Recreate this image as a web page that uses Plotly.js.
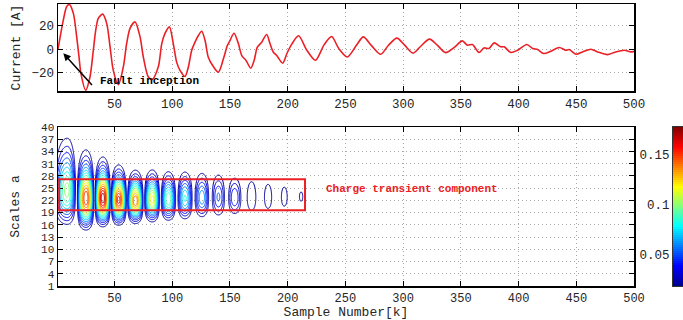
<!DOCTYPE html>
<html><head><meta charset="utf-8">
<script src="https://cdn.plot.ly/plotly-3.0.1.min.js"></script>
<style>html,body{margin:0;padding:0;background:#fff}#chart{width:683px;height:320px}</style>
</head><body><div id="chart"></div>
<script>
// ---- top panel: fault current ----
const sampleK = [1, 5.6, 8.5, 10.8, 14.3, 17.2, 19.2, 20.9, 25, 28.7, 31.6, 33.7, 35.9, 39.7, 43.2, 46.1, 48.9, 53.3, 57.6, 60.5, 63.4, 67.7, 72.1, 74.9, 79.3, 82.7, 87.9, 90.9, 93.7, 97.5, 100.9, 103.8, 106.7, 111, 113.9, 116.8, 119.7, 122.6, 125.5, 128.4, 131.2, 135, 139.9, 144.3, 147.7, 150, 153.5, 157.3, 160.2, 163.9, 168, 170.9, 173.7, 177.5, 181.8, 184.7, 187.6, 190.5, 195.7, 199.2, 203.5, 209.4, 216.6, 224, 231.5, 238, 244.3, 251.6, 259.8, 265.5, 272.8, 280.6, 287.3, 294.6, 301.3, 308.6, 315, 322.9, 329.6, 336.8, 344.1, 351.3, 355.6, 360, 365.7, 370, 374.4, 378.8, 384.6, 387.5, 393.3, 399.1, 407.2, 412.2, 416.5, 421.7, 428, 435.3, 440.9, 443.8, 449.7, 455.5, 462.7, 468.5, 477.1, 482.9, 491.6, 497.4, 500];
const currentA = [0, 24.8, 36.2, 38.2, 30.5, 10.5, -6.6, -20.8, -35.0, -23.7, -0.9, 16.2, 26.2, 29.9, 22, 2, -18, -30.2, -15.1, 4.9, 17.7, 23.3, 10.5, -6.6, -23.7, -25.7, -15, 4.8, 13.4, 19, 4.6, -11, -18, -23.2, -15.3, -1.1, 6, 11.7, 15.3, 7.4, -6.8, -13.9, -19.6, -8.2, 3.1, 7.4, 13.6, 4.6, -5.4, -9.6, -16.2, -9.6, 1.7, 6, 12.5, 4.6, -2.6, -5.4, -11.9, -3.9, 4.3, 11.4, -0.9, -9.4, 3.7, 10.8, 0.5, -6.6, 3.7, 10.5, 2.8, -4.3, 3.4, 9.4, 3.4, -3.4, 2.3, 8.6, 3.4, -2.9, 1.4, 7.1, 3.4, 4, -2.8, 1.1, 0.6, 5.4, 2, 2, -2.8, -0.9, 4, 0.6, -0.3, -3.7, -1.7, 1.4, -0.9, -0.3, -4.3, -2.3, 0, -2.3, -4.6, -2.8, -0.9, -2.3, -1.8];

// ---- bottom panel: wavelet scalogram maxima ----
const blobK      = [9, 25.3, 39.9, 53.5, 68, 82.6, 96.6, 111, 125.7, 140, 154, 168.7, 183, 197, 211.6];
const blobAmp    = [0.105, 0.16, 0.178, 0.165, 0.15, 0.125, 0.1, 0.082, 0.068, 0.052, 0.05, 0.029, 0.026, 0.0235, 0.021];
const blobScale  = [24.5, 22.5, 22.5, 22.1, 21.9, 22.2, 22.3, 22.5, 22.7, 22.8, 22.7, 22.8, 22.8, 22.8, 22.9];
const blobSpread = [0.23, 0.208, 0.178, 0.16, 0.147, 0.148, 0.147, 0.15, 0.148, 0.154, 0.14, 0.178, 0.178, 0.18, 0.16];

const xTicks = [50, 100, 150, 200, 250, 300, 350, 400, 450, 500];
const currentTicks = [-20, 0, 20];
const scaleTicks = [1, 4, 7, 10, 13, 16, 19, 22, 25, 28, 31, 34, 37, 40];
const cbarTicks = [0.05, 0.1, 0.15];
const cbarRange = [0.018, 0.178];
const levels = {start: 0.02, end: 0.17, size: 0.01};

// ---- build scalogram grid from the blob table ----
const kStart = 1, kEnd = 260, kStep = 0.5, aStart = 1, aEnd = 40, aStep = 0.25;
const kGrid = [], aGrid = [];
for (let k = kStart; k <= kEnd + 1e-9; k += kStep) kGrid.push(+k.toFixed(2));
for (let a = aStart; a <= aEnd + 1e-9; a += aStep) aGrid.push(+a.toFixed(2));
function halfWidth(i, d) {
  if (d < 0) return i > 0 ? blobK[i] - blobK[i-1] : 3 * (blobK[0] - kStart);
  return i < blobK.length - 1 ? blobK[i+1] - blobK[i] : blobK[i] - blobK[i-1];
}
const zGrid = aGrid.map(a => kGrid.map(k => {
  let best = 0;
  for (let i = 0; i < blobK.length; i++) {
    const d = k - blobK[i];
    const P = halfWidth(i, d);
    if (Math.abs(d) >= P / 2) continue;
    const h = Math.cos(Math.PI * d / P);
    const u = Math.log(a / blobScale[i]) / blobSpread[i];
    const v = blobAmp[i] * h * Math.exp(-u * u / 2);
    if (v > best) best = v;
  }
  return best;
}));

// MATLAB-like jet, mapped over the colour-bar range
const jetStops = [[0,[0,0,143]],[0.125,[0,0,255]],[0.375,[0,255,255]],[0.625,[255,255,0]],[0.875,[255,0,0]],[1,[128,0,0]]];
function jetAt(t) {
  t = Math.max(0, Math.min(1, t));
  for (let i = 1; i < jetStops.length; i++) {
    if (t <= jetStops[i][0]) {
      const [t0, c0] = jetStops[i-1], [t1, c1] = jetStops[i];
      const f = (t - t0) / (t1 - t0);
      return 'rgb(' + c0.map((c, j) => Math.round(c + (c1[j] - c) * f)).join(',') + ')';
    }
  }
  return 'rgb(128,0,0)';
}
function scaleOver(lo, hi) {
  const out = [];
  for (let i = 0; i <= 40; i++) {
    const v = lo + (hi - lo) * i / 40;
    out.push([i / 40, jetAt((v - cbarRange[0]) / (cbarRange[1] - cbarRange[0]))]);
  }
  return out;
}
const jet = scaleOver(cbarRange[0], cbarRange[1]);
const contourScale = scaleOver(levels.start, levels.end);
const cbarVals = [];
for (let i = 0; i <= 80; i++) cbarVals.push(cbarRange[0] + (cbarRange[1] - cbarRange[0]) * i / 80);

// ---- layout geometry ----
const W = 683, H = 320, mL = 58, mR = 0, mT = 4, mB = 34;
const plotW = W - mL - mR, plotH = H - mT - mB;
const xDom = [0, (634 - mL) / plotW];
const topDom = [(H - mB - 91) / plotH, 1];
const botDom = [0, (H - mB - 127) / plotH];
const cbDom = [(673 - mL) / plotW, 1];
const FONT = 'Liberation Mono, Courier New, monospace';
const RED = 'rgb(235,32,38)';
const TXT = '#262626';

const axBase = {showline: true, linecolor: '#000', linewidth: 1.5, mirror: 'ticks',
  ticks: 'inside', ticklen: 5, tickwidth: 1, tickcolor: '#000',
  showgrid: true, gridcolor: '#a8a8a8', griddash: '1px,3px', gridwidth: 1, zeroline: false,
  tickfont: {family: FONT, size: 12.5, color: TXT}};

const traces = [
  {type: 'scatter', mode: 'lines', x: sampleK, y: currentA, xaxis: 'x', yaxis: 'y',
   line: {color: RED, width: 1.6, shape: 'spline', smoothing: 0.8}, hoverinfo: 'skip'},
  {type: 'contour', x: kGrid, y: aGrid, z: zGrid, xaxis: 'x2', yaxis: 'y2',
   autocontour: false, contours: {coloring: 'lines', start: levels.start, end: levels.end, size: levels.size},
   line: {width: 1}, colorscale: contourScale, showscale: false, hoverinfo: 'skip'},
  {type: 'heatmap', x: [0], y: cbarVals, z: cbarVals.map(v => [v]), xaxis: 'x3', yaxis: 'y3',
   colorscale: jet, zmin: cbarRange[0], zmax: cbarRange[1], showscale: false, hoverinfo: 'skip'}
];

const layout = {
  width: W, height: H, margin: {l: mL, r: mR, t: mT, b: mB},
  paper_bgcolor: '#fff', plot_bgcolor: '#fff', showlegend: false,
  font: {family: FONT, color: TXT},
  xaxis: Object.assign({}, axBase, {domain: xDom, anchor: 'y', range: [1, 500], tickvals: xTicks}),
  yaxis: Object.assign({}, axBase, {domain: topDom, anchor: 'x', range: [-35.6, 38.5], tickvals: currentTicks,
    title: {text: 'Current [A]', font: {family: FONT, size: 13, color: TXT}, standoff: 8}}),
  xaxis2: Object.assign({}, axBase, {domain: xDom, anchor: 'y2', range: [1, 500], tickvals: xTicks,
    tickfont: {family: FONT, size: 12, color: TXT},
    title: {text: 'Sample Number[k]', font: {family: FONT, size: 13, color: TXT}, standoff: 1}}),
  yaxis2: Object.assign({}, axBase, {domain: botDom, anchor: 'x2', range: [1, 40], tickvals: scaleTicks,
    tickfont: {family: FONT, size: 11, color: TXT},
    title: {text: 'Scales a', font: {family: FONT, size: 13, color: TXT}, standoff: 18}}),
  xaxis3: {domain: cbDom, anchor: 'y3', range: [-0.5, 0.5], showticklabels: false, ticks: '',
    showgrid: false, zeroline: false, showline: true, mirror: true, linecolor: '#333', linewidth: 1},
  yaxis3: {domain: botDom, anchor: 'x3', side: 'left', range: cbarRange, tickvals: cbarTicks,
    ticktext: cbarTicks.map(String), ticks: '', showgrid: false, zeroline: false,
    showline: true, mirror: true, linecolor: '#333', linewidth: 1,
    tickfont: {family: FONT, size: 12.5, color: TXT}},
  annotations: [
    {xref: 'x', yref: 'y', x: 5.6, y: -3.4, axref: 'x', ayref: 'y', ax: 31.6, ay: -31.7,
     text: '', showarrow: true, arrowhead: 2, arrowsize: 1, arrowwidth: 1.5, arrowcolor: '#000', standoff: 0},
    {xref: 'x', yref: 'y', x: 35.4, y: -27.2, xanchor: 'left', yanchor: 'middle', showarrow: false,
     text: '<b>Fault inception</b>', font: {family: FONT, size: 11, color: '#000'}},
    {xref: 'x2', yref: 'y2', x: 231.5, y: 24.7, xanchor: 'left', yanchor: 'middle', showarrow: false,
     text: '<b>Charge transient component</b>', font: {family: FONT, size: 11, color: RED}}
  ],
  shapes: [
    {type: 'rect', xref: 'x2', yref: 'y2', x0: 2, x1: 215, y0: 19.6, y1: 27.2,
     line: {color: RED, width: 2}, fillcolor: 'rgba(0,0,0,0)'}
  ]
};

Plotly.newPlot('chart', traces, layout, {staticPlot: true, displayModeBar: false});
</script></body></html>
